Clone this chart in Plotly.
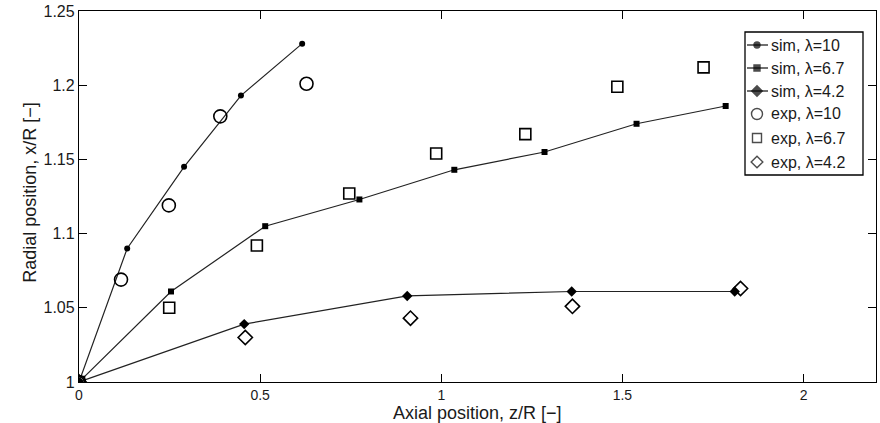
import plotly.graph_objects as go

# ---------------- data ----------------
sim10_x = [0, 0.133, 0.29, 0.447, 0.616]
sim10_y = [1.0, 1.090, 1.145, 1.193, 1.228]
exp10_x = [0, 0.116, 0.248, 0.39, 0.628]
exp10_y = [1.0, 1.069, 1.119, 1.179, 1.201]

sim67_x = [0, 0.254, 0.514, 0.774, 1.036, 1.285, 1.539, 1.785]
sim67_y = [1.0, 1.061, 1.105, 1.123, 1.143, 1.155, 1.174, 1.186]
exp67_x = [0, 0.249, 0.491, 0.746, 0.986, 1.232, 1.486, 1.724]
exp67_y = [1.0, 1.050, 1.092, 1.127, 1.154, 1.167, 1.199, 1.212]

sim42_x = [0, 0.456, 0.906, 1.36, 1.81]
sim42_y = [1.0, 1.039, 1.058, 1.061, 1.061]
exp42_x = [0, 0.459, 0.915, 1.362, 1.826]
exp42_y = [1.0, 1.030, 1.043, 1.051, 1.063]

legend_labels = ["sim, λ=10", "sim, λ=6.7", "sim, λ=4.2",
                 "exp, λ=10", "exp, λ=6.7", "exp, λ=4.2"]

x_tickvals = [0, 0.5, 1, 1.5, 2]
x_ticktext = ["0", "0.5", "1", "1.5", "2"]
y_tickvals = [1.0, 1.05, 1.1, 1.15, 1.2, 1.25]
y_ticktext = ["1", "1.05", "1.1", "1.15", "1.2", "1.25"]

x_title = "Axial position, z/R [−]"
y_title = "Radial position, x/R [−]"

# ---------------- style ----------------
FONT = "Liberation Sans, Arial, sans-serif"
TXT = "#1a1a1a"
LINE = "#222222"

W, H = 880, 423
L, R, T, B = 79, 4, 11, 41
pw, ph = W - L - R, H - T - B


def px2paper_x(px):
    return (px - L) / pw


def py2paper_y(py):
    return (H - B - py) / ph


sim_styles = [
    dict(symbol="circle", size=6),
    dict(symbol="square", size=6),
    dict(symbol="diamond", size=8),
]
exp_styles = [
    dict(symbol="circle-open", size=13),
    dict(symbol="square-open", size=11),
    dict(symbol="diamond-open", size=11),
]

fig = go.Figure()

sims = [(sim10_x, sim10_y), (sim67_x, sim67_y), (sim42_x, sim42_y)]
exps = [(exp10_x, exp10_y), (exp67_x, exp67_y), (exp42_x, exp42_y)]

for (xs, ys), st, name in zip(sims, sim_styles, legend_labels[:3]):
    fig.add_trace(go.Scatter(
        x=xs, y=ys, mode="lines+markers", name=name,
        line=dict(color=LINE, width=1.2),
        marker=dict(symbol=st["symbol"], size=st["size"], color="black"),
        showlegend=False))

for (xs, ys), st, name in zip(exps, exp_styles, legend_labels[3:]):
    fig.add_trace(go.Scatter(
        x=xs, y=ys, mode="markers", name=name,
        marker=dict(symbol=st["symbol"], size=st["size"], color="black",
                    line=dict(width=1.6, color="black")),
        showlegend=False))

# ---------------- custom legend (MATLAB-like box) ----------------
box_l, box_r, box_t, box_b = 745, 863, 32, 175
row_py = [45, 68, 91, 114, 138, 162]
seg_l, seg_r, mk_x, txt_x = 747, 768, 757, 769

fig.add_shape(type="rect", xref="paper", yref="paper",
              x0=px2paper_x(box_l), x1=px2paper_x(box_r),
              y0=py2paper_y(box_b), y1=py2paper_y(box_t),
              line=dict(color="black", width=1.3), fillcolor="white",
              layer="below")

lx, ly = [], []
for i in range(3):
    lx += [px2paper_x(seg_l), px2paper_x(seg_r), None]
    ly += [py2paper_y(row_py[i])] * 2 + [None]
fig.add_trace(go.Scatter(x=lx, y=ly, xaxis="x2", yaxis="y2", mode="lines",
                         line=dict(color=LINE, width=1.3), showlegend=False,
                         hoverinfo="skip"))
all_styles = sim_styles + exp_styles
leg_sizes = [6, 6, 8, 11, 9, 9]
fig.add_trace(go.Scatter(
    x=[px2paper_x(mk_x)] * 6, y=[py2paper_y(p) for p in row_py],
    xaxis="x2", yaxis="y2", mode="markers", showlegend=False, hoverinfo="skip",
    marker=dict(symbol=[s["symbol"] for s in all_styles], size=leg_sizes,
                color="black", line=dict(width=1.4, color="black"))))

for lab, p in zip(legend_labels, row_py):
    fig.add_annotation(xref="paper", yref="paper", x=px2paper_x(txt_x),
                       y=py2paper_y(p), text=lab, showarrow=False,
                       xanchor="left", yanchor="middle",
                       font=dict(family=FONT, size=16, color=TXT))

# axis titles
fig.add_annotation(xref="paper", yref="paper", x=0.5, y=py2paper_y(413),
                   text=x_title, showarrow=False, xanchor="center",
                   yanchor="middle", font=dict(family=FONT, size=18, color=TXT))
fig.add_annotation(xref="paper", yref="paper", x=px2paper_x(30), y=0.51,
                   text=y_title, showarrow=False, textangle=-90,
                   xanchor="center", yanchor="middle",
                   font=dict(family=FONT, size=18, color=TXT))

axis_common = dict(showgrid=False, zeroline=False, showline=True,
                   linecolor="black", linewidth=1.3, mirror="ticks",
                   ticks="inside", ticklen=8, tickwidth=1.2, tickcolor="black")

fig.update_layout(
    width=W, height=H,
    margin=dict(l=L, r=R, t=T, b=B),
    paper_bgcolor="white", plot_bgcolor="white",
    xaxis=dict(range=[0, 2.2], tickvals=x_tickvals, ticktext=x_ticktext,
               tickfont=dict(family=FONT, size=14, color=TXT), **axis_common),
    yaxis=dict(range=[1.0, 1.25], tickvals=y_tickvals, ticktext=y_ticktext,
               tickfont=dict(family=FONT, size=16, color=TXT), **axis_common),
    xaxis2=dict(range=[0, 1], overlaying="x", visible=False, fixedrange=True),
    yaxis2=dict(range=[0, 1], overlaying="y", visible=False, fixedrange=True),
    showlegend=False,
)

fig.write_html("out.html")
